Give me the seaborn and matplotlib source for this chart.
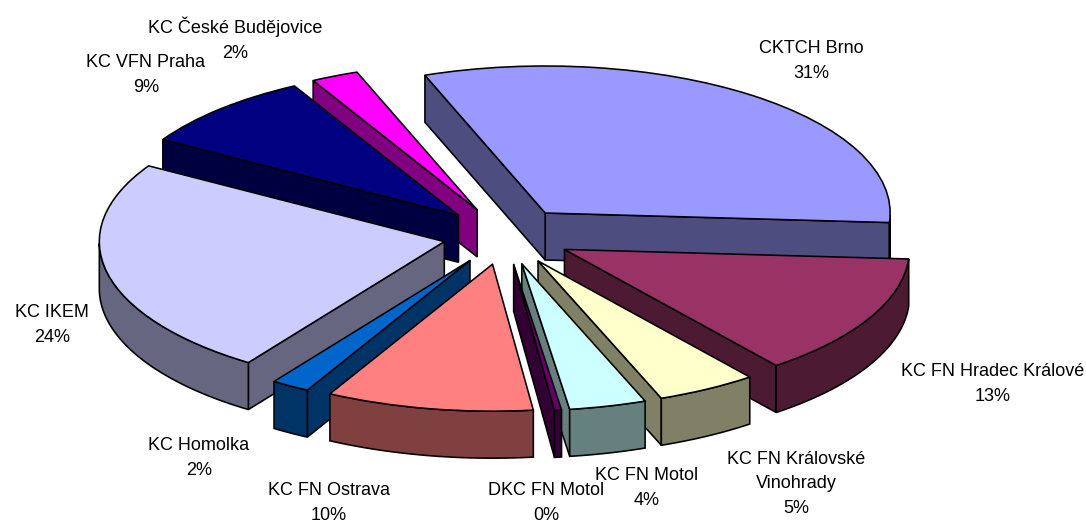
"""Exploded pseudo-3D pie of patient share per transplant centre."""

import numpy as np
import matplotlib.pyplot as plt
from matplotlib.colors import to_rgb
from matplotlib.patches import Polygon
import seaborn as sns

centres = [
    "CKTCH Brno",
    "KC FN Hradec Králové",
    "KC FN Královské\nVinohrady",
    "KC FN Motol",
    "DKC FN Motol",
    "KC FN Ostrava",
    "KC Homolka",
    "KC IKEM",
    "KC VFN Praha",
    "KC České Budějovice",
]
shares = [31.7, 13.45, 4.7, 3.6, 0.33, 9.7, 1.8, 24.0, 8.5, 2.22]
percent_labels = ["31%", "13%", "5%", "4%", "0%", "10%", "2%", "24%", "9%", "2%"]
top_colours = ["#9999FF", "#993366", "#FFFFCC", "#CCFFFF", "#660066",
               "#FF8080", "#0066CC", "#CCCCFF", "#000080", "#FF00FF"]
explode = [0.195, 0.195, 0.195, 0.195, 0.195, 0.195, 0.195, 0.18, 0.195, 0.195]

# label centres in image pixels
label_x = [811, 993, 796, 647, 546, 329, 199, 52, 146, 235]
label_y = [61, 384, 484, 488, 503, 503, 458, 325, 75, 39]

WIDTH, HEIGHT = 1086, 523
CENTRE_X, CENTRE_Y = 505, 236  # pie centre, pixels
RADIUS_X, RADIUS_Y = 345, 147  # ellipse radii, pixels
DEPTH = 47 / RADIUS_Y  # extrusion in data units
LINE = 1.15

sns.set_theme(style="white")
plt.rcParams["font.family"] = ["Liberation Sans", "DejaVu Sans"]

palette = sns.color_palette(top_colours)

fig = plt.figure(figsize=(WIDTH / 100, HEIGHT / 100), dpi=100)
ax = fig.add_axes([0, 0, 1, 1])
wedges, _ = ax.pie(
    shares,
    explode=explode,
    colors=palette,
    startangle=110.4,
    counterclock=False,
    wedgeprops={"edgecolor": "black", "linewidth": LINE, "joinstyle": "round"},
)
ax.set_aspect("auto")
ax.set_xlim(-CENTRE_X / RADIUS_X, (WIDTH - CENTRE_X) / RADIUS_X)
ax.set_ylim(-(HEIGHT - CENTRE_Y) / RADIUS_Y, CENTRE_Y / RADIUS_Y)


def add_wall(points, colour, zorder):
    """Extrude a run of top-face points straight down and draw the strip."""
    points = np.asarray(points)
    lower = points - [0, DEPTH]
    ax.add_patch(Polygon(np.vstack([points, lower[::-1]]), closed=True, facecolor=colour,
                         edgecolor="black", linewidth=LINE, zorder=zorder))


# paint back to front so nearer slices hide the walls of farther ones
order = sorted(range(len(wedges)), key=lambda i: -wedges[i].center[1])
for rank, idx in enumerate(order):
    wedge = wedges[idx]
    side = np.array(to_rgb(palette[idx])) * 0.5
    cx, cy = wedge.center
    base = 3 + rank
    apex = (cx, cy)

    # radial walls, only when they face the viewer
    for theta, normal in ((wedge.theta1, wedge.theta1 - 90), (wedge.theta2, wedge.theta2 + 90)):
        if np.sin(np.radians(normal)) < 0:
            rad = np.radians(theta)
            add_wall([apex, (cx + np.cos(rad), cy + np.sin(rad))], side, base)

    # rim wall, the front half of the arc only
    angles = np.linspace(wedge.theta1, wedge.theta2, 80)
    angles = angles[np.sin(np.radians(angles)) < 0]
    if len(angles) > 1:
        rad = np.radians(angles)
        add_wall(np.column_stack([cx + np.cos(rad), cy + np.sin(rad)]), side, base + 0.2)

    wedge.set_zorder(base + 0.4)

for name, percent, x, y in zip(centres, percent_labels, label_x, label_y):
    fig.text(x / WIDTH, 1 - y / HEIGHT, f"{name}\n{percent}", ha="center", va="center",
             fontsize=13, color="black", linespacing=1.6, zorder=50)

fig.savefig("out.png", dpi=100, facecolor="white")
